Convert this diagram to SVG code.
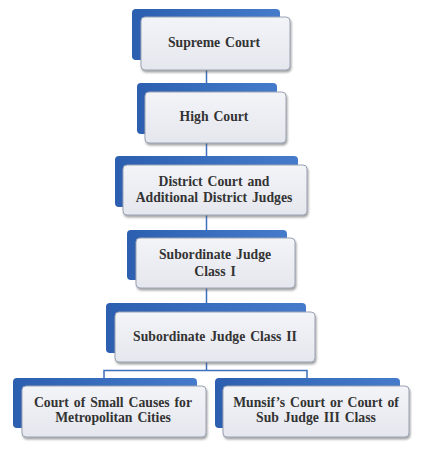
<svg xmlns="http://www.w3.org/2000/svg" width="430" height="451" viewBox="0 0 430 451">
<defs>
<linearGradient id="gBlue" x1="0" y1="0" x2="1" y2="0">
<stop offset="0" stop-color="#2c5fb0"/>
<stop offset="1" stop-color="#467bcc"/>
</linearGradient>
<linearGradient id="gFront" x1="0" y1="0" x2="0" y2="1">
<stop offset="0" stop-color="#f3f4f8"/>
<stop offset="1" stop-color="#e5e7ee"/>
</linearGradient>
<filter id="sh" x="-10%" y="-10%" width="120%" height="130%">
<feDropShadow dx="1" dy="2" stdDeviation="1.2" flood-color="#555" flood-opacity="0.55"/>
</filter>
</defs>
<style>
.back{fill:url(#gBlue);}
.front{fill:url(#gFront);stroke:#9aa3b3;stroke-width:1;filter:url(#sh);}
.t{font-family:"Liberation Serif","Times New Roman",serif;font-weight:bold;font-size:13.7px;fill:#333;text-anchor:middle;word-spacing:1.5px;}
.c{stroke:#3c6fbf;stroke-width:1.5;fill:none;}
</style>
<rect width="430" height="451" fill="#ffffff"/>
<g id="connectors">
<line class="c" x1="206.5" y1="70" x2="206.5" y2="83"/>
<line class="c" x1="206.5" y1="143" x2="206.5" y2="156"/>
<line class="c" x1="206.5" y1="215" x2="206.5" y2="230"/>
<line class="c" x1="206.5" y1="288" x2="206.5" y2="303"/>
<path class="c" d="M206.5 362 V370.5 M104 378 V370.5 H307 V378"/>
</g>
<g id="n1">
<rect class="back" x="132" y="9" width="148" height="51" rx="4"/>
<rect class="front" x="141" y="17" width="149" height="53" rx="4"/>
<text class="t" x="214" y="47">Supreme Court</text>
</g>
<g id="n2">
<rect class="back" x="137" y="83" width="140" height="51" rx="4"/>
<rect class="front" x="145" y="92" width="141" height="51" rx="4"/>
<text class="t" x="214" y="121">High Court</text>
</g>
<g id="n3">
<rect class="back" x="115" y="156" width="183" height="51" rx="4"/>
<rect class="front" x="123" y="165" width="184" height="50" rx="4"/>
<text class="t" x="214" y="186">District Court and</text>
<text class="t" x="214" y="202">Additional District Judges</text>
</g>
<g id="n4">
<rect class="back" x="127" y="230" width="160" height="50" rx="4"/>
<rect class="front" x="136" y="238" width="159" height="50" rx="4"/>
<text class="t" x="215" y="259">Subordinate Judge</text>
<text class="t" x="215" y="276">Class I</text>
</g>
<g id="n5">
<rect class="back" x="106" y="303" width="200" height="50" rx="4"/>
<rect class="front" x="115" y="312" width="200" height="50" rx="4"/>
<text class="t" x="215" y="341">Subordinate Judge Class II</text>
</g>
<g id="n6">
<rect class="back" x="13" y="378" width="184" height="50" rx="4"/>
<rect class="front" x="22" y="386" width="184" height="51" rx="4"/>
<text class="t" x="113" y="407">Court of Small Causes for</text>
<text class="t" x="113" y="422">Metropolitan Cities</text>
</g>
<g id="n7">
<rect class="back" x="215" y="378" width="185" height="50" rx="4"/>
<rect class="front" x="223" y="386" width="186" height="51" rx="4"/>
<text class="t" x="316" y="407">Munsif’s Court or Court of</text>
<text class="t" x="316" y="422">Sub Judge III Class</text>
</g>
</svg>
